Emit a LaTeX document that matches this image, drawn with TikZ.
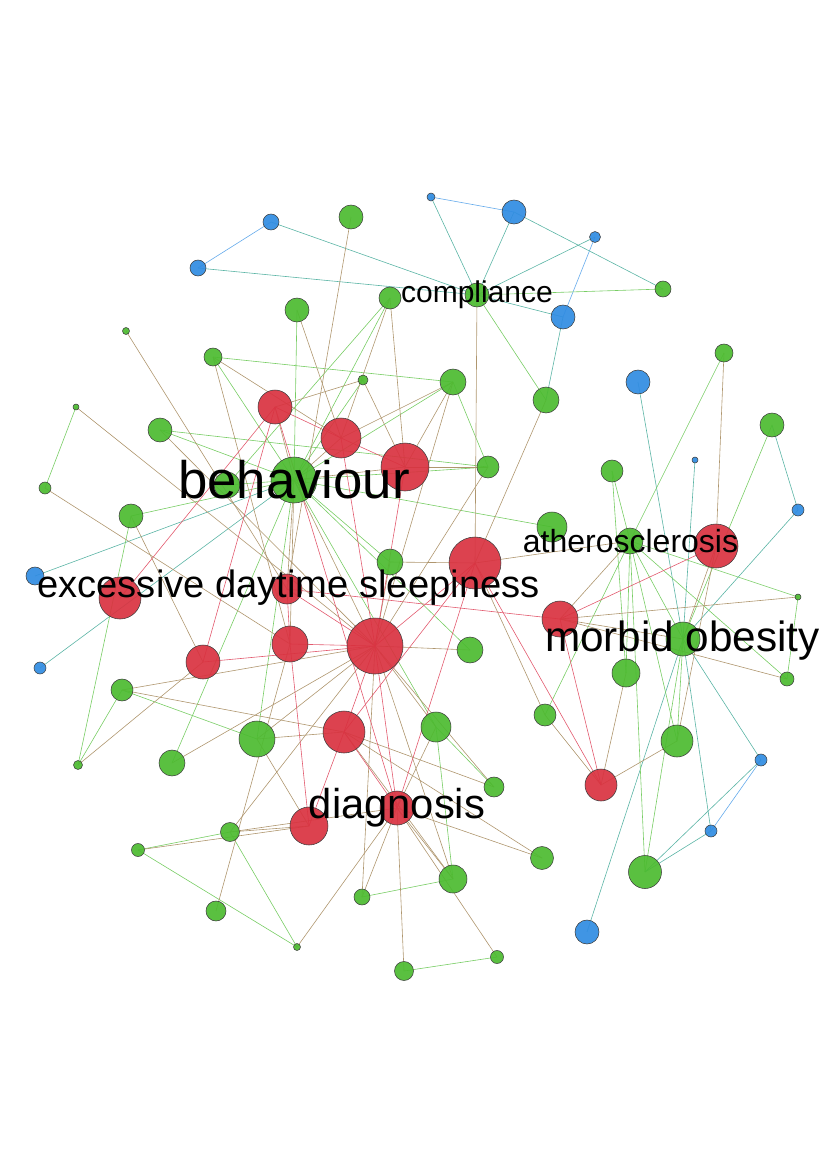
\documentclass[tikz,border=0pt]{standalone}
\usepackage{fontspec}
\setmainfont{Liberation Sans}
\usetikzlibrary{backgrounds}
\definecolor{nred}{RGB}{217,50,64}
\definecolor{ngreen}{RGB}{76,187,48}
\definecolor{nblue}{RGB}{48,140,226}
\definecolor{egg}{RGB}{120,205,100}
\definecolor{err}{RGB}{226,90,110}
\definecolor{erg}{RGB}{175,150,110}
\definecolor{ebg}{RGB}{90,180,165}
\definecolor{ebb}{RGB}{100,170,235}
\definecolor{nborder}{RGB}{60,60,60}
\tikzset{
  nd/.style={circle,draw=nborder,line width=0.4pt,inner sep=0pt,fill opacity=0.92},
  rn/.style={nd,fill=nred},
  gn/.style={nd,fill=ngreen},
  bn/.style={nd,fill=nblue},
  e/.style={line width=0.45pt},
  gg/.style={e,draw=egg},
  rr/.style={e,draw=err},
  rg/.style={e,draw=erg},
  bg/.style={e,draw=ebg},
  bb/.style={e,draw=ebb},
  lab/.style={anchor=base,inner sep=0pt,text=black}
}
\newcommand\mynd[4]{\node[#1,minimum size=#4*1.5pt] (#2) at (#3) {};}
\begin{document}
\begin{tikzpicture}[x=0.75pt,y=-0.75pt]
\useasboundingbox (0,0) rectangle (830,1175);
% nodes (blue)
\mynd{bn}{B1}{431,197}{4}
\mynd{bn}{B2}{514,212}{12}
\mynd{bn}{B3}{595,237}{5.5}
\mynd{bn}{B4}{271,222}{8}
\mynd{bn}{B5}{198,268}{8}
\mynd{bn}{B6}{563,317}{12}
\mynd{bn}{B7}{638,382}{12}
\mynd{bn}{B8}{695,460}{3}
\mynd{bn}{B9}{798,510}{6}
\mynd{bn}{B10}{35,576}{9}
\mynd{bn}{B11}{40,668}{6}
\mynd{bn}{B12}{761,760}{6}
\mynd{bn}{B13}{711,831}{6}
\mynd{bn}{B14}{587,932}{12}
% green
\mynd{gn}{G1}{351,217}{12}
\mynd{gn}{G2}{477,295}{12}
\mynd{gn}{G3}{663,289}{8}
\mynd{gn}{G4}{390,298}{11}
\mynd{gn}{G5}{297,310}{12}
\mynd{gn}{G6}{126,331}{3.5}
\mynd{gn}{G7}{213,357}{9}
\mynd{gn}{G8}{363,380}{5}
\mynd{gn}{G9}{453,382}{13}
\mynd{gn}{G10}{546,400}{13}
\mynd{gn}{G11}{724,353}{9}
\mynd{gn}{G12}{76,407}{3}
\mynd{gn}{G13}{160,430}{12}
\mynd{gn}{G14}{772,425}{12}
\mynd{gn}{G15}{488,467}{11}
\mynd{gn}{G16}{612,471}{11}
\mynd{gn}{G18}{227,485}{13}
\mynd{gn}{G17}{294,480}{23}
\mynd{gn}{G19}{45,488}{6}
\mynd{gn}{G20}{131,516}{12}
\mynd{gn}{G21}{552,527}{15}
\mynd{gn}{G22}{630,541}{13}
\mynd{gn}{G23}{390,562}{13}
\mynd{gn}{G24}{798,597}{3}
\mynd{gn}{G25}{683,639}{17}
\mynd{gn}{G26}{470,650}{13}
\mynd{gn}{G27}{626,673}{14}
\mynd{gn}{G28}{787,679}{7}
\mynd{gn}{G29}{122,690}{11}
\mynd{gn}{G30}{545,715}{11}
\mynd{gn}{G31}{257,739}{18}
\mynd{gn}{G32}{436,727}{15}
\mynd{gn}{G33}{677,741}{16}
\mynd{gn}{G34}{172,763}{13}
\mynd{gn}{G35}{78,765}{4.5}
\mynd{gn}{G36}{494,787}{10}
\mynd{gn}{G37}{230,832}{9.5}
\mynd{gn}{G38}{138,850}{6.5}
\mynd{gn}{G39}{542,858}{11.5}
\mynd{gn}{G40}{453,879}{14}
\mynd{gn}{G41}{645,872}{16.5}
\mynd{gn}{G42}{362,897}{8}
\mynd{gn}{G43}{216,911}{10}
\mynd{gn}{G44}{297,947}{3.5}
\mynd{gn}{G45}{404,971}{9.5}
\mynd{gn}{G46}{497,957}{6.5}
% red
\mynd{rn}{R1}{275,407}{17}
\mynd{rn}{R2}{341,438}{20}
\mynd{rn}{R3}{405,467}{24}
\mynd{rn}{R4}{475,563}{26}
\mynd{rn}{R5}{716,546}{22}
\mynd{rn}{R6}{120,598}{21}
\mynd{rn}{R7}{287,589}{15}
\mynd{rn}{R8}{560,619}{18}
\mynd{rn}{R9}{290,644}{18}
\mynd{rn}{R10}{375,646}{28}
\mynd{rn}{R11}{203,662}{17}
\mynd{rn}{R12}{344,732}{21}
\mynd{rn}{R13}{601,785}{16}
\mynd{rn}{R14}{397,808}{17}
\mynd{rn}{R15}{309,826}{19}
% edges (behind nodes)
\begin{scope}[on background layer]
\foreach \a/\b in {B4/B5,B1/B2,B3/B6,B12/B13}
  \draw[bb] (\a.center) -- (\b.center);
\foreach \a/\b in {B4/G2,B5/G2,B1/G2,B2/G2,B2/G3,B3/G2,B6/G2,B6/G10,B7/G25,B8/G25,B9/G25,B9/G14,B10/G17,B11/G17,B12/G25,B13/G25,B14/G25,B12/G41,B13/G41}
  \draw[bg] (\a.center) -- (\b.center);
\foreach \a/\b in {G2/G3,G2/G10,G12/G19,G7/G9,G7/G17,G13/G17,G13/G15,G5/G17,G4/G17,G4/G18,G8/G17,G9/G17,G9/G15,G15/G17,G21/G17,G26/G17,G20/G17,G18/G17,G20/G35,G29/G35,G29/G31,G31/G17,G34/G17,G37/G38,G37/G44,G38/G44,G42/G40,G45/G46,G32/G40,G32/G36,G11/G22,G14/G25,G16/G22,G16/G27,G22/G24,G22/G27,G22/G25,G22/G30,G22/G33,G22/G28,G22/G41,G24/G28,G25/G33,G25/G41,G23/G17,G32/G17}
  \draw[gg] (\a.center) -- (\b.center);
\foreach \a/\b in {G1/R7,G5/R2,G6/R7,G12/R10,G7/R2,G7/R9,G13/R10,G4/R3,G4/R2,G8/R1,G8/R3,G9/R3,G9/R2,G9/R10,G15/R3,G15/R10,G2/R4,G10/R4,G22/R4,G22/R8,G11/R5,R5/G25,R5/G33,R8/G24,R8/G28,R8/G25,R13/G33,R13/G30,R13/G27,R4/G30,R4/G23,R1/G17,R2/G17,R3/G17,R7/G17,R9/G17,R10/G17,R10/G32,R10/G36,R10/G40,R10/G42,R10/G31,R10/G29,R10/G34,R10/G37,R10/G26,R10/G23,R14/G40,R14/G45,R14/G44,R14/G42,R14/G39,R14/G32,R14/G37,R14/G46,R15/G31,R15/G37,R15/G38,R12/G31,R12/G40,R12/G39,R12/G36,R12/G29,R11/G20,G35/R11,G19/R9,G43/R9}
  \draw[rg] (\a.center) -- (\b.center);
\foreach \a/\b in {R1/R2,R2/R3,R1/R6,R8/R5,R8/R7,R8/R13,R4/R13,R10/R7,R10/R9,R10/R11,R10/R4,R10/R12,R10/R14,R10/R3,R10/R2,R14/R12,R14/R4,R15/R12,R15/R9,R1/R14,R4/R12,R11/R1,R7/R9}
  \draw[rr] (\a.center) -- (\b.center);
\end{scope}
% labels
\node[lab,font=\fontsize{22.5}{22.5}\selectfont] (Lcomp) at (477,302.7) {compliance};
\node[lab,font=\fontsize{39.6}{39.6}\selectfont] (Lbeh) at (294,498) {behaviour};
\node[lab,font=\fontsize{28.6}{28.6}\selectfont] (Leds) at (288.5,597) {excessive daytime sleepiness};
\node[lab,font=\fontsize{24}{24}\selectfont] (Lath) at (630.5,552) {atherosclerosis};
\node[lab,font=\fontsize{31.7}{31.7}\selectfont] (Lmo) at (682.5,651.7) {morbid obesity};
\node[lab,font=\fontsize{31.3}{31.3}\selectfont] (Ldia) at (397,818) {diagnosis};
\end{tikzpicture}
\end{document}
